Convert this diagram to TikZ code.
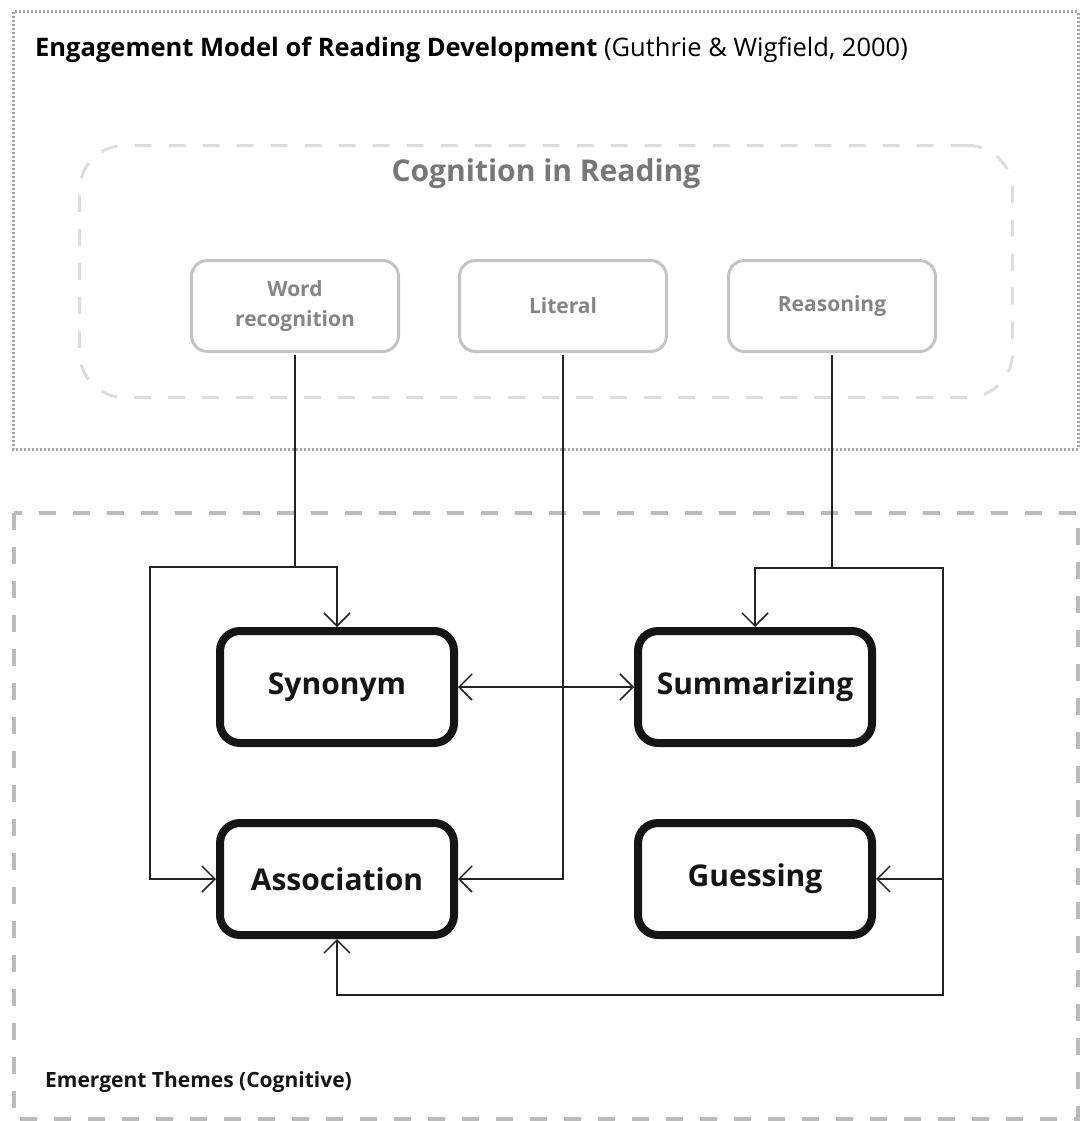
\documentclass[tikz,border=0pt]{standalone}
\usepackage{fontspec}
\setmainfont{Open Sans}
\usetikzlibrary{arrows.meta}

\definecolor{inkline}{HTML}{222222}
\definecolor{boxink}{HTML}{151515}
\definecolor{softgrey}{HTML}{C4C4C4}
\definecolor{labelgrey}{HTML}{858585}
\definecolor{headgrey}{HTML}{777777}
\definecolor{paledash}{HTML}{DDDDDD}
\definecolor{framedash}{HTML}{BBBBBB}
\definecolor{dotgrey}{HTML}{A6A6A6}

\begin{document}
\begin{tikzpicture}[x=1pt,y=-1pt,
  theme/.style={draw=boxink, line width=8pt, rounded corners=20pt, fill=white,
    minimum width=234pt, minimum height=112pt, inner sep=0pt,
    font=\fontsize{30}{34}\selectfont\bfseries, text=boxink},
  cogbox/.style={draw=softgrey, line width=3pt, rounded corners=16pt, fill=white,
    minimum width=207pt, minimum height=91pt, inner sep=0pt, align=center,
    font=\fontsize{21}{30}\selectfont\bfseries, text=labelgrey},
  conn/.style={draw=inkline, line width=1.5pt},
  tip/.style={-{Straight Barb[length=13pt,width=26pt,line width=1.5pt]}},
  bothtips/.style={{Straight Barb[length=13pt,width=26pt,line width=1.5pt]}-{Straight Barb[length=13pt,width=26pt,line width=1.5pt]}}
]
\useasboundingbox (0,0) rectangle (1082,1121);

% upper frame: the reading-development model
\draw[dotgrey, line width=3pt, dash pattern=on 2pt off 2pt] (13,12) rectangle (1078,449);
\node[anchor=base west, inner sep=0pt, font=\fontsize{25.5}{30}\selectfont, text=black]
  (modeltitle) at (35,57) {\textbf{Engagement Model of Reading Development} (Guthrie \& Wigfield, 2000)};

% cognition container
\node[draw=paledash, line width=3pt, dash pattern=on 17pt off 17pt, rounded corners=45pt,
  minimum width=933pt, minimum height=252pt] (cog) at (546,271.5) {};
\node[font=\fontsize{30}{34}\selectfont\bfseries, text=headgrey] (cogtitle) at (546,174) {Cognition in Reading};

\node[cogbox] (wr)  at (295,306) {Word\\recognition};
\node[cogbox] (lit) at (563,306) {Literal};
\node[cogbox] (rea) at (832,306) {Reasoning};

% lower frame: emergent themes
\draw[framedash, line width=4pt, dash pattern=on 17pt off 17pt] (14,513) rectangle (1078,1119);
\node[anchor=base west, inner sep=0pt, font=\fontsize{21}{25}\selectfont\bfseries, text=boxink]
  (emtitle) at (45,1087) {Emergent Themes (Cognitive)};

\node[theme] (syn)   at (337,687) {Synonym};
\node[theme] (sum)   at (755,687) {Summarizing};
\node[theme] (assoc) at (337,879) {Association};
\node[theme] (gue)   at (755,879) {Guessing};

% junctions of the connectors
\coordinate (jw) at (295,567);
\coordinate (cl) at (150,567);
\coordinate (jr) at (832,568);
\coordinate (cr) at (943,568);
\coordinate (cb) at (943,995);

% word recognition
\draw[conn, shorten <=2pt] (wr.south) -- (jw);
\draw[conn, tip] (jw) -| (syn.north);
\draw[conn, tip] (jw) -- (cl) |- (assoc.west);
% literal
\draw[conn, tip, shorten <=2pt] (lit.south) |- (assoc.east);
% reasoning
\draw[conn, shorten <=2pt] (rea.south) -- (jr);
\draw[conn, tip] (jr) -| (sum.north);
\draw[conn, tip] (jr) -- (cr) |- (gue.east);
\draw[conn, tip] (cr) -- (cb) -| (assoc.south);
% synonym and summarizing
\draw[conn, bothtips] (syn.east) -- (sum.west);
\end{tikzpicture}
\end{document}
